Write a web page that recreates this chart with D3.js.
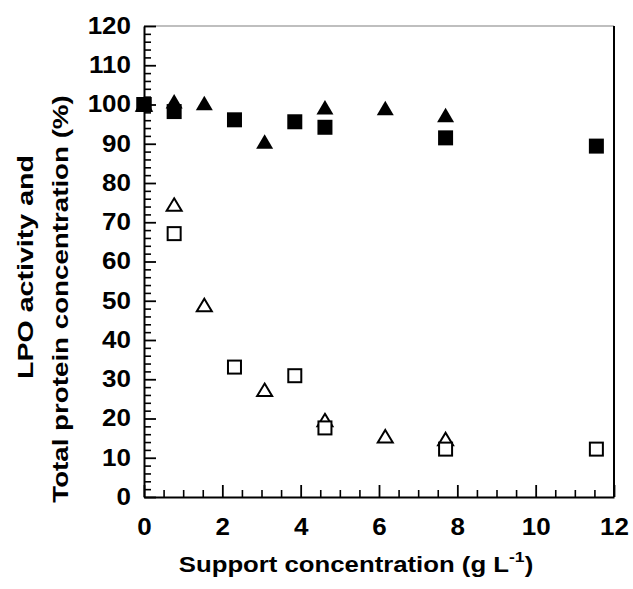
<!DOCTYPE html>
<html>
<head>
<meta charset="utf-8">
<script src="https://cdn.jsdelivr.net/npm/d3@7"></script>
<style>
  html, body { margin: 0; padding: 0; background: #fff; }
  svg text { font-family: "Liberation Sans", Arial, sans-serif; font-weight: bold; fill: #000; }
</style>
</head>
<body>
<svg id="chart" width="633" height="589"></svg>
<script>
// Support concentration (g/L) at which each series was sampled
const squareX = [0, 0.77, 2.31, 3.85, 4.62, 7.7, 11.55];
const triangleX = [0, 0.77, 1.54, 3.08, 4.62, 6.16, 7.7];

// Relative values (%)
const filledSquareY = [100, 98.2, 96.1, 95.6, 94.2, 91.5, 89.4];
const openSquareY = [100, 67.1, 33.1, 30.9, 17.6, 12.2, 12.2];
const filledTriangleY = [100, 100.8, 100.4, 90.6, 99.3, 99.1, 97.3];
const openTriangleY = [100, 74.5, 48.9, 27.3, 19.6, 15.5, 14.8];

// Axis ticks
const xTicks = [0, 2, 4, 6, 8, 10, 12];
const yTicks = [0, 10, 20, 30, 40, 50, 60, 70, 80, 90, 100, 110, 120];

const svg = d3.select("#chart");
const plotL = 144, plotR = 614, plotT = 26, plotB = 497;
const fs = 23;       // label font size
const wide = 1.13;   // horizontal widening of the lettering

const x = d3.scaleLinear().domain([0, 12]).range([plotL, plotR]);
const y = d3.scaleLinear().domain([0, 120]).range([plotB, plotT]);

// Frame: thin grey top edge, black right edge
svg.append("line").attr("x1", plotL).attr("x2", plotR).attr("y1", plotT).attr("y2", plotT)
  .attr("stroke", "#808080").attr("stroke-width", 1.2);
svg.append("line").attr("x1", plotR).attr("x2", plotR).attr("y1", plotT).attr("y2", plotB)
  .attr("stroke", "#000").attr("stroke-width", 2);

// Minor ticks
const xMinor = d3.range(0, 12.01, 0.5).filter(v => !xTicks.includes(v));
const yMinor = d3.range(0, 120.01, 2).filter(v => !yTicks.includes(v));

svg.append("g").attr("transform", `translate(0,${plotB})`)
  .call(d3.axisBottom(x).tickValues(xMinor).tickSize(-7).tickFormat(""))
  .call(g => g.select(".domain").remove())
  .call(g => g.selectAll("line").attr("stroke", "#000").attr("stroke-width", 1.6));
svg.append("g").attr("transform", `translate(${plotL},0)`)
  .call(d3.axisLeft(y).tickValues(yMinor).tickSize(-7).tickFormat(""))
  .call(g => g.select(".domain").remove())
  .call(g => g.selectAll("line").attr("stroke", "#000").attr("stroke-width", 1.6));

// Major ticks and labels
const xAxis = svg.append("g").attr("transform", `translate(0,${plotB})`)
  .call(d3.axisBottom(x).tickValues(xTicks).tickSizeInner(-12).tickSizeOuter(0).tickFormat(d3.format("d")));
xAxis.select(".domain").attr("stroke", "#000").attr("stroke-width", 2);
xAxis.selectAll("line").attr("stroke", "#000").attr("stroke-width", 1.8);
xAxis.selectAll("text").attr("font-size", fs).attr("dy", null).attr("y", 38)
  .attr("transform", `scale(${wide},1)`);

const yAxis = svg.append("g").attr("transform", `translate(${plotL},0)`)
  .call(d3.axisLeft(y).tickValues(yTicks).tickSizeInner(-12).tickSizeOuter(0).tickFormat(d3.format("d")));
yAxis.select(".domain").attr("stroke", "#000").attr("stroke-width", 2);
yAxis.selectAll("line").attr("stroke", "#000").attr("stroke-width", 1.8);
yAxis.selectAll("text").attr("font-size", fs).attr("x", -13 / wide)
  .attr("transform", `scale(${wide},1)`);

// Axis titles
const xTitle = svg.append("g").attr("transform", "translate(356,572) scale(1.17,1)")
  .append("text").attr("text-anchor", "middle").attr("font-size", 22);
xTitle.append("tspan").text("Support concentration (g L");
xTitle.append("tspan").attr("font-size", 15).attr("dy", -10).text("-1");
xTitle.append("tspan").attr("dy", 10).text(")");

svg.append("g").attr("transform", "translate(0,267) rotate(-90) scale(1.3,1)")
  .append("text").attr("y", 33).attr("text-anchor", "middle").attr("font-size", 22)
  .text("LPO activity and");
svg.append("g").attr("transform", "translate(0,299) rotate(-90) scale(1.26,1)")
  .append("text").attr("y", 68).attr("text-anchor", "middle").attr("font-size", 22)
  .text("Total protein concentration (%)");

// Markers
const tri = (w, h) => `M0,${-h / 2}L${w / 2},${h / 2}L${-w / 2},${h / 2}Z`;
const pts = (xs, ys) => xs.map((v, i) => ({ x: v, y: ys[i] }));
const marks = svg.append("g");

marks.selectAll("path.ot").data(pts(triangleX, openTriangleY)).join("path")
  .attr("class", "ot").attr("d", tri(15, 12.5))
  .attr("transform", d => `translate(${x(d.x)},${y(d.y)})`)
  .attr("fill", "#fff").attr("stroke", "#000").attr("stroke-width", 2).attr("stroke-linejoin", "miter");

marks.selectAll("rect.os").data(pts(squareX, openSquareY)).join("rect")
  .attr("class", "os").attr("width", 13).attr("height", 13)
  .attr("x", d => x(d.x) - 6.5).attr("y", d => y(d.y) - 6.5)
  .attr("fill", "#fff").attr("stroke", "#000").attr("stroke-width", 2);

marks.selectAll("path.ft").data(pts(triangleX, filledTriangleY)).join("path")
  .attr("class", "ft").attr("d", tri(17, 14.5))
  .attr("transform", d => `translate(${x(d.x)},${y(d.y)})`)
  .attr("fill", "#000");

marks.selectAll("rect.fs").data(pts(squareX, filledSquareY)).join("rect")
  .attr("class", "fs").attr("width", 15).attr("height", 15)
  .attr("x", d => x(d.x) - 7.5).attr("y", d => y(d.y) - 7.5)
  .attr("fill", "#000");
</script>
</body>
</html>
